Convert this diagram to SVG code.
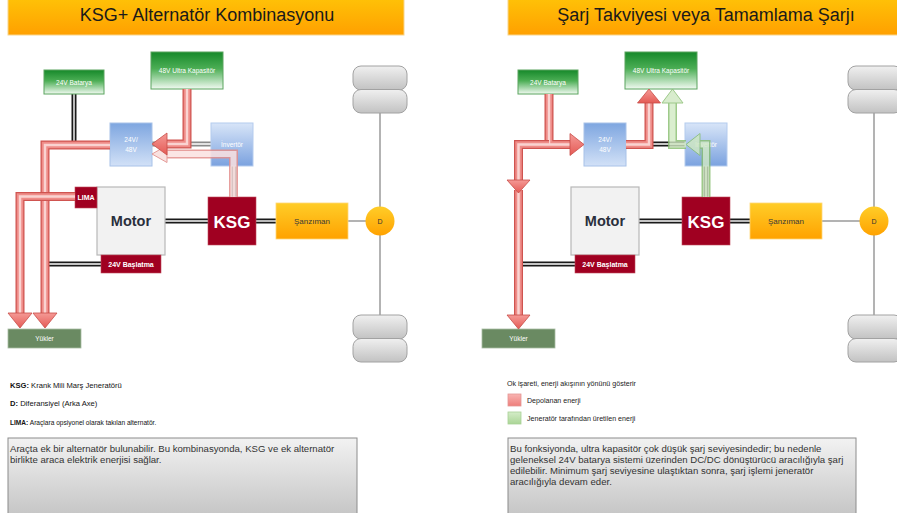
<svg xmlns="http://www.w3.org/2000/svg" width="897" height="513" viewBox="0 0 897 513">
  <defs>
    <linearGradient id="gTitle" x1="0" y1="0" x2="0" y2="1">
      <stop offset="0" stop-color="#ffc107"/>
      <stop offset="1" stop-color="#ffa000"/>
    </linearGradient>
    <linearGradient id="gGreen" x1="0" y1="0" x2="0" y2="1">
      <stop offset="0" stop-color="#16892a"/>
      <stop offset="0.45" stop-color="#4cae55"/>
      <stop offset="1" stop-color="#f2faf2"/>
    </linearGradient>
    <linearGradient id="gBlueDown" x1="0" y1="0" x2="0" y2="1">
      <stop offset="0" stop-color="#7ea6e0"/>
      <stop offset="1" stop-color="#d2e1f7"/>
    </linearGradient>
    <linearGradient id="gBlueUp" x1="0" y1="0" x2="0" y2="1">
      <stop offset="0" stop-color="#d8e5f8"/>
      <stop offset="1" stop-color="#7ba2df"/>
    </linearGradient>
    <linearGradient id="gOrange" x1="0" y1="0" x2="0" y2="1">
      <stop offset="0" stop-color="#ffcd28"/>
      <stop offset="1" stop-color="#ffa200"/>
    </linearGradient>
    <linearGradient id="gWheel" x1="0" y1="0" x2="0" y2="1">
      <stop offset="0" stop-color="#f0f0f0"/>
      <stop offset="1" stop-color="#c2c2c2"/>
    </linearGradient>
    <linearGradient id="gNote" x1="0" y1="0" x2="0" y2="1">
      <stop offset="0" stop-color="#f2f2f2"/>
      <stop offset="1" stop-color="#c4c4c4"/>
    </linearGradient>
    <linearGradient id="gRedHead" x1="0" y1="0" x2="0" y2="1">
      <stop offset="0" stop-color="#f59a96"/>
      <stop offset="1" stop-color="#e45a55"/>
    </linearGradient>
    <linearGradient id="gLegendRed" x1="0" y1="0" x2="0" y2="1">
      <stop offset="0" stop-color="#f8b4b2"/>
      <stop offset="1" stop-color="#ee7e7a"/>
    </linearGradient>
    <linearGradient id="gLegendGreen" x1="0" y1="0" x2="0" y2="1">
      <stop offset="0" stop-color="#d4ecc8"/>
      <stop offset="1" stop-color="#aad596"/>
    </linearGradient>
    <style>
      text { font-family: "Liberation Sans", Arial, sans-serif; }
      .title { fill: url(#gTitle); stroke: #f8d58c; stroke-width: 1; }
      .title-t { font-size: 18px; fill: #1a1a1a; text-anchor: middle; }
      .store { fill: url(#gGreen); stroke: #5aa45e; stroke-width: 1; }
      .conv { fill: url(#gBlueDown); stroke: #a8c2e8; stroke-width: 1; }
      .inv { fill: url(#gBlueUp); stroke: #b4cbee; stroke-width: 1; }
      .motor { fill: #f2f2f2; stroke: #b8b8b8; stroke-width: 1.2; }
      .dark { fill: #a00021; stroke: #c04a5a; stroke-width: 0.6; }
      .gear { fill: url(#gOrange); stroke: #ffd878; stroke-width: 0.8; }
      .load { fill: #6a8a62; stroke: #a8bca4; stroke-width: 0.8; }
      .wheel { fill: url(#gWheel); stroke: #a2a2a2; stroke-width: 1; }
      .note { fill: url(#gNote); stroke: #8c8c8c; stroke-width: 1; }
      .lbl { font-size: 6.5px; fill: #ffffff; text-anchor: middle; }
      .lbl-b { font-size: 7px; fill: #ffffff; text-anchor: middle; font-weight: bold; }
      .dbl-o { stroke: #1a1a1a; stroke-width: 5; fill: none; }
      .dbl-i { stroke: #ffffff; stroke-width: 1.4; fill: none; }
      .gdbl-o { stroke: #8a8a8a; stroke-width: 5; fill: none; }
      .thin { stroke: #9a9a9a; stroke-width: 1.5; fill: none; }
      .rp-o { stroke: #cf5450; stroke-width: 9; fill: none; stroke-linejoin: miter; }
      .rp-m { stroke: #ef8d89; stroke-width: 6.5; fill: none; stroke-linejoin: miter; }
      .rp-i { stroke: #fad3d1; stroke-width: 2.5; fill: none; stroke-linejoin: miter; }
      .rh { fill: url(#gRedHead); stroke: #c84c48; stroke-width: 0.8; stroke-linejoin: miter; }
      .pp-o { stroke: #e38f8c; stroke-width: 9; fill: none; }
      .pp-i { stroke: #fbe1e0; stroke-width: 6; fill: none; }
      .ph { fill: #f9dcdb; stroke: #e08a87; stroke-width: 1; }
      .gp-o { stroke: #86bd6e; stroke-width: 9; fill: none; }
      .gp-i { stroke: #d2eac4; stroke-width: 6; fill: none; }
      .gh { fill: #cfe8c1; stroke: #86bd6e; stroke-width: 1; }
      .def { font-size: 7.6px; fill: #111111; }
      .def tspan.k { font-weight: bold; }
      .legend { font-size: 7.1px; fill: #222222; }
      .body { font-size: 9.6px; fill: #333333; }
    </style>
  </defs>

  <!-- ===================== left panel ===================== -->
  <g id="title-left">
    <rect class="title" x="8" y="-1" width="396" height="36"/>
    <text class="title-t" x="207" y="21">KSG+ Alternatör Kombinasyonu</text>
  </g>

  <!-- axle and wheels -->
  <g id="axle-left">
    <line class="thin" x1="380" y1="113" x2="380" y2="316"/>
    <rect class="wheel" x="353" y="66" width="54" height="24" rx="8"/>
    <rect class="wheel" x="353" y="89.5" width="54" height="23.5" rx="8"/>
    <rect class="wheel" x="353" y="315" width="54" height="24" rx="8"/>
    <rect class="wheel" x="353" y="338.5" width="54" height="23.5" rx="8"/>
  </g>

  <!-- connectors (shafts, cables) -->
  <g id="links-left">
    <path class="dbl-o" d="M74,94 V141"/><path class="dbl-i" d="M74,94 V141"/>
    <path class="gdbl-o" d="M152,144 H211"/><path class="dbl-i" d="M152,144 H211"/>
    <path class="dbl-o" d="M234,166 V197"/><path class="dbl-i" d="M234,166 V197"/>
    <path class="dbl-o" d="M165,221 H208"/><path class="dbl-i" d="M165,221 H208"/>
    <path class="dbl-o" d="M256,221 H276"/><path class="dbl-i" d="M256,221 H276"/>
    <path class="dbl-o" d="M45,264 H101"/><path class="dbl-i" d="M45,264 H101"/>
    <line class="thin" x1="348" y1="221" x2="366" y2="221"/>
  </g>

  <g id="batt24-left">
    <rect class="store" x="44" y="70" width="60" height="24"/>
    <text class="lbl" x="74" y="84.5">24V Batarya</text>
  </g>
  <g id="ucap-left">
    <rect class="store" x="151" y="52" width="72" height="37"/>
    <text class="lbl" x="187" y="72.5">48V Ultra Kapasitör</text>
  </g>
  <g id="dcdc-left">
    <rect class="conv" x="110" y="123" width="42" height="43"/>
    <text class="lbl" x="131" y="142">24V/</text>
    <text class="lbl" x="131" y="152">48V</text>
  </g>
  <g id="inv-left">
    <rect class="inv" x="211" y="123" width="42" height="43"/>
    <text class="lbl" x="232" y="147">İnvertör</text>
  </g>
  <g id="motor-left">
    <rect class="motor" x="97" y="187" width="68" height="68"/>
    <text x="131" y="226" font-size="14.5" font-weight="bold" fill="#2a2f3c" text-anchor="middle">Motor</text>
  </g>
  <g id="lima-left">
    <rect class="dark" x="75" y="187" width="22" height="21"/>
    <text class="lbl-b" x="86" y="200">LIMA</text>
  </g>
  <g id="start-left">
    <rect class="dark" x="101" y="255" width="60" height="18"/>
    <text class="lbl-b" x="131" y="266.5">24V Başlatma</text>
  </g>
  <g id="ksg-left">
    <rect class="dark" x="208" y="197" width="48" height="48"/>
    <text x="232" y="227.5" font-size="17" font-weight="bold" fill="#ffffff" text-anchor="middle">KSG</text>
  </g>
  <g id="gear-left">
    <rect class="gear" x="276" y="203" width="72" height="36"/>
    <text x="312" y="224" font-size="8" fill="#3a3a3a" text-anchor="middle">Şanzıman</text>
  </g>
  <g id="diff-left">
    <circle cx="380" cy="221" r="14.5" fill="url(#gOrange)"/>
    <text x="380" y="223.5" font-size="7" fill="#333333" text-anchor="middle">D</text>
  </g>
  <g id="loads-left">
    <rect class="load" x="8" y="329" width="73" height="19"/>
    <text class="lbl" x="44.5" y="341">Yükler</text>
  </g>

  <!-- energy flow arrows -->
  <g id="flow-left">
    <g opacity="0.85">
      <path class="pp-o" d="M233.5,197 V154 H166"/>
      <path class="pp-i" d="M233.5,197 V154 H166"/>
      <polygon class="ph" points="152,154 167,145.5 167,162.5"/>
    </g>
    <path class="rp-o" d="M187,89 V144 H166"/>
    <path class="rp-m" d="M187,89 V144 H166"/>
    <path class="rp-i" d="M187,89 V144 H166"/>
    <polygon class="rh" points="152,144 167,133 167,155"/>

    <path class="rp-o" d="M110,145 H45 V314"/>
    <path class="rp-m" d="M110,145 H45 V314"/>
    <path class="rp-i" d="M110,145 H45 V314"/>
    <polygon class="rh" points="45,328 33,313 57,313"/>

    <path class="rp-o" d="M75,196.5 H20 V314"/>
    <path class="rp-m" d="M75,196.5 H20 V314"/>
    <path class="rp-i" d="M75,196.5 H20 V314"/>
    <polygon class="rh" points="20,328 8,313 32,313"/>
  </g>

  <g id="defs-left">
    <text class="def" x="10" y="388"><tspan class="k">KSG:</tspan> Krank Mili Marş Jeneratörü</text>
    <text class="def" x="10" y="406"><tspan class="k">D:</tspan> Diferansiyel (Arka Axe)</text>
    <text class="def" x="10" y="425" style="font-size:6.6px"><tspan class="k">LIMA:</tspan> Araçlara opsiyonel olarak takılan alternatör.</text>
  </g>
  <g id="note-left">
    <rect class="note" x="8" y="438" width="349" height="80"/>
    <text class="body" x="10" y="452">Araçta ek bir alternatör bulunabilir. Bu kombinasyonda, KSG ve ek alternatör</text>
    <text class="body" x="10" y="463">birlikte araca elektrik enerjisi sağlar.</text>
  </g>

  <!-- ===================== right panel ===================== -->
  <g id="title-right">
    <rect class="title" x="508" y="-1" width="396" height="36"/>
    <text class="title-t" x="706" y="21">Şarj Takviyesi veya Tamamlama Şarjı</text>
  </g>

  <g id="axle-right">
    <line class="thin" x1="874" y1="113" x2="874" y2="316"/>
    <rect class="wheel" x="848" y="66" width="54" height="24" rx="8"/>
    <rect class="wheel" x="848" y="89.5" width="54" height="23.5" rx="8"/>
    <rect class="wheel" x="848" y="315" width="54" height="24" rx="8"/>
    <rect class="wheel" x="848" y="338.5" width="54" height="23.5" rx="8"/>
  </g>

  <g id="links-right">
    <path class="dbl-o" d="M626,144 H685"/><path class="dbl-i" d="M626,144 H685"/>
    <path class="dbl-o" d="M706,166 V197"/><path class="dbl-i" d="M706,166 V197"/>
    <path class="dbl-o" d="M639,221 H682"/><path class="dbl-i" d="M639,221 H682"/>
    <path class="dbl-o" d="M730,221 H750"/><path class="dbl-i" d="M730,221 H750"/>
    <path class="dbl-o" d="M519,264 H575"/><path class="dbl-i" d="M519,264 H575"/>
    <line class="thin" x1="822" y1="221" x2="860" y2="221"/>
  </g>

  <g id="batt24-right">
    <rect class="store" x="518" y="70" width="60" height="24"/>
    <text class="lbl" x="548" y="84.5">24V Batarya</text>
  </g>
  <g id="ucap-right">
    <rect class="store" x="625" y="52" width="72" height="37"/>
    <text class="lbl" x="661" y="72.5">48V Ultra Kapasitör</text>
  </g>
  <g id="dcdc-right">
    <rect class="conv" x="584" y="123" width="42" height="43"/>
    <text class="lbl" x="605" y="142">24V/</text>
    <text class="lbl" x="605" y="152">48V</text>
  </g>
  <g id="inv-right">
    <rect class="inv" x="685" y="123" width="42" height="43"/>
    <text class="lbl" x="706" y="147">İnvertör</text>
  </g>
  <g id="motor-right">
    <rect class="motor" x="571" y="187" width="68" height="68"/>
    <text x="605" y="226" font-size="14.5" font-weight="bold" fill="#2a2f3c" text-anchor="middle">Motor</text>
  </g>
  <g id="start-right">
    <rect class="dark" x="575" y="255" width="60" height="18"/>
    <text class="lbl-b" x="605" y="266.5">24V Başlatma</text>
  </g>
  <g id="ksg-right">
    <rect class="dark" x="682" y="197" width="48" height="48"/>
    <text x="706" y="227.5" font-size="17" font-weight="bold" fill="#ffffff" text-anchor="middle">KSG</text>
  </g>
  <g id="gear-right">
    <rect class="gear" x="750" y="203" width="72" height="36"/>
    <text x="786" y="224" font-size="8" fill="#3a3a3a" text-anchor="middle">Şanzıman</text>
  </g>
  <g id="diff-right">
    <circle cx="874" cy="221" r="14.5" fill="url(#gOrange)"/>
    <text x="874" y="223.5" font-size="7" fill="#333333" text-anchor="middle">D</text>
  </g>
  <g id="loads-right">
    <rect class="load" x="482" y="329" width="73" height="19"/>
    <text class="lbl" x="518.5" y="341">Yükler</text>
  </g>

  <g id="flow-right">
    <!-- battery feeding the converter and the loads -->
    <path class="rp-o" d="M549,94 V144.5 H571"/>
    <path class="rp-m" d="M549,94 V144.5 H571"/>
    <path class="rp-i" d="M549,94 V144.5 H571"/>
    <polygon class="rh" points="584,144.5 570,133.5 570,155.5"/>

    <path class="rp-o" d="M549,144.5 H518.5 V181"/>
    <path class="rp-m" d="M549,144.5 H518.5 V181"/>
    <path class="rp-i" d="M549,144.5 H518.5 V181"/>
    <path class="rp-o" d="M518.5,190 V315"/>
    <path class="rp-m" d="M518.5,190 V315"/>
    <path class="rp-i" d="M518.5,190 V315"/>
    <polygon class="rh" points="518.5,193 507,180 530,180"/>
    <polygon class="rh" points="518.5,329 507,315 530,315"/>

    <!-- converter charging the capacitor -->
    <path class="rp-o" d="M626,144.5 H649 V102"/>
    <path class="rp-m" d="M626,144.5 H649 V102"/>
    <path class="rp-i" d="M626,144.5 H649 V102"/>
    <polygon class="rh" points="649,89 637.5,103 660.5,103"/>

    <!-- generator charging the capacitor -->
    <g opacity="0.8">
      <path class="gp-o" d="M706,197 V144.5 H699"/>
      <path class="gp-i" d="M706,197 V144.5 H699"/>
      <polygon class="gh" points="686,144.5 700,133.5 700,155.5"/>
      <path class="gp-o" d="M686,144.5 H672.5 V102"/>
      <path class="gp-i" d="M686,144.5 H672.5 V102"/>
      <polygon class="gh" points="672.5,89 662,103 683,103"/>
    </g>
  </g>

  <g id="legend-right">
    <text class="legend" x="507" y="386">Ok işareti, enerji akışının yönünü  gösterir</text>
    <rect x="508" y="394" width="13" height="12" fill="url(#gLegendRed)" stroke="#e39694" stroke-width="0.8"/>
    <text class="legend" x="527" y="402.5">Depolanan enerji</text>
    <rect x="508" y="412" width="13" height="12" fill="url(#gLegendGreen)" stroke="#a9d196" stroke-width="0.8"/>
    <text class="legend" x="527" y="420.5">Jeneratör tarafından üretilen enerji</text>
  </g>
  <g id="note-right">
    <rect class="note" x="508" y="438" width="348" height="80"/>
    <text class="body" x="510" y="452">Bu fonksiyonda, ultra kapasitör çok düşük şarj seviyesindedir; bu nedenle</text>
    <text class="body" x="510" y="463">geleneksel 24V batarya sistemi üzerinden DC/DC dönüştürücü aracılığıyla şarj</text>
    <text class="body" x="510" y="474">edilebilir. Minimum şarj seviyesine ulaştıktan sonra, şarj işlemi jeneratör</text>
    <text class="body" x="510" y="485">aracılığıyla devam eder.</text>
  </g>
</svg>
